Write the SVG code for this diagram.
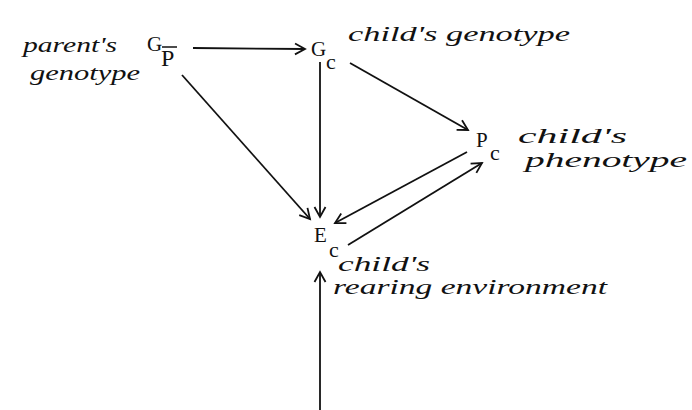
<svg xmlns="http://www.w3.org/2000/svg" width="692" height="410" viewBox="0 0 692 410">
<style>
.t{font-family:"Liberation Serif","DejaVu Serif",serif;fill:#111}
.cap{font-size:21px}
.sub{font-size:22px}
.h{font-family:"Liberation Serif","DejaVu Serif",serif;font-style:italic;font-size:21px;fill:#111}
.c{stroke:#111;stroke-width:1.8;fill:none}
</style>
<defs>
<marker id="ah" markerUnits="userSpaceOnUse" markerWidth="16" markerHeight="16" viewBox="-12 -8 14 16" refX="0" refY="0" orient="auto">
<path d="M -10 -5.5 L 0 0 L -10 5.5" fill="none" stroke="#111" stroke-width="1.8"/>
</marker>
</defs>
<rect width="692" height="410" fill="#fff"/>
<g id="connectors">
<line class="c" x1="193" y1="48" x2="305" y2="49" marker-end="url(#ah)"/>
<line class="c" x1="320" y1="62" x2="320" y2="217" marker-end="url(#ah)"/>
<line class="c" x1="182" y1="75" x2="310" y2="219" marker-end="url(#ah)"/>
<line class="c" x1="350" y1="63" x2="468" y2="130" marker-end="url(#ah)"/>
<line class="c" x1="467" y1="152" x2="335" y2="223" marker-end="url(#ah)"/>
<line class="c" x1="348" y1="245" x2="482" y2="163" marker-end="url(#ah)"/>
<line class="c" x1="320" y1="410" x2="320" y2="272" stroke-width="2.2" marker-end="url(#ah)"/>
</g>
<g id="node-Gp">
<text class="t cap" x="147" y="51">G</text>
<text class="t" x="161" y="66" font-size="24">P</text>
<line x1="162" y1="47" x2="177" y2="47" stroke="#111" stroke-width="1.5"/>
<text class="h" x="23" y="52" textLength="94" lengthAdjust="spacingAndGlyphs">parent's</text>
<text class="h" x="30" y="80" textLength="110" lengthAdjust="spacingAndGlyphs">genotype</text>
</g>
<g id="node-Gc">
<text class="t cap" x="311" y="56">G</text>
<text class="t sub" x="326" y="69">c</text>
<text class="h" x="348" y="41" font-size="23" textLength="222" lengthAdjust="spacingAndGlyphs">child's genotype</text>
</g>
<g id="node-Pc">
<text class="t cap" x="476" y="147">P</text>
<text class="t sub" x="490" y="160">c</text>
<text class="h" x="518" y="143" textLength="109" lengthAdjust="spacingAndGlyphs">child's</text>
<text class="h" x="525" y="167" textLength="162" lengthAdjust="spacingAndGlyphs">phenotype</text>
</g>
<g id="node-Ec">
<text class="t cap" x="314" y="242">E</text>
<text class="t sub" x="329" y="257">c</text>
<text class="h" x="338" y="271" textLength="92" lengthAdjust="spacingAndGlyphs">child's</text>
<text class="h" x="333" y="294" textLength="274" lengthAdjust="spacingAndGlyphs">rearing environment</text>
</g>
</svg>
